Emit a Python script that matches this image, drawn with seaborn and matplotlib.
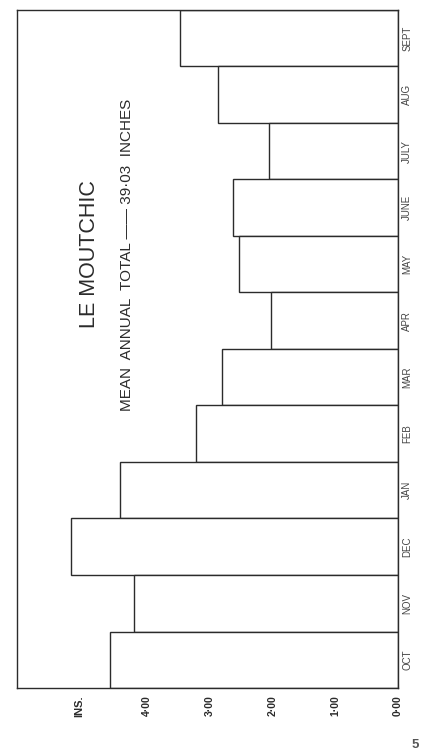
import pandas as pd
import seaborn as sns
import matplotlib.pyplot as plt

months = ['OCT', 'NOV', 'DEC', 'JAN', 'FEB', 'MAR',
          'APR', 'MAY', 'JUNE', 'JULY', 'AUG', 'SEPT']
rain_ins = [4.59, 4.21, 5.21, 4.43, 3.22, 2.81,
            2.02, 2.54, 2.63, 2.05, 2.86, 3.47]
tick_vals = [0, 1, 2, 3, 4]
tick_labels = ['0·00', '1·00', '2·00', '3·00', '4·00']

df = pd.DataFrame({'month': months, 'ins': rain_ins})

sns.set_style('white')
plt.rcParams['font.family'] = ['Liberation Sans', 'DejaVu Sans']
ink = '#2b2b2b'

fig = plt.figure(figsize=(4.23, 7.54), dpi=100)
ax = fig.add_axes([0.040, 0.0875, 0.901, 0.8995])

# chart is printed sideways: OCT at the bottom, values grow to the left
sns.barplot(data=df, x='ins', y='month', order=months[::-1], orient='h',
            width=1.0, color='white', edgecolor=ink, linewidth=1.0, ax=ax)

ax.set_xlim(6.07, 0)
ax.set_ylim(11.5, -0.5)
ax.set_xlabel('')
ax.set_ylabel('')

for s in ax.spines.values():
    s.set_visible(True)
    s.set_color(ink)
    s.set_linewidth(1.0)

ax.set_xticks(tick_vals)
ax.set_xticklabels(tick_labels, rotation=90, fontsize=7.5, fontweight='bold', color=ink)
ax.tick_params(axis='x', direction='in', length=3, width=0.8, color='#888888', pad=5, bottom=True)

ax.yaxis.tick_right()
ax.tick_params(axis='y', length=0, pad=3, right=True, left=False)
for lab in ax.get_yticklabels():
    lab.set_rotation(90)
    lab.set_fontsize(7)
    lab.set_color('#444444')
    lab.set_va('center')
    lab.set_ha('left')

ax.annotate('INS.', xy=(5.08, 0), xycoords=('data', 'axes fraction'),
            xytext=(0, -5), textcoords='offset points', rotation=90,
            ha='center', va='top', fontsize=8, fontweight='bold', color=ink)

ax.text(0.19, 0.64, 'LE MOUTCHIC', transform=ax.transAxes, rotation=90,
        ha='center', va='center', fontsize=15.5, color=ink)
ax.text(0.289, 0.639, 'MEAN  ANNUAL  TOTAL —— 39·03  INCHES', transform=ax.transAxes,
        rotation=90, ha='center', va='center', fontsize=11, color=ink)

fig.text(0.981, 0.012, '5', ha='center', va='center', fontsize=9.5,
         fontweight='bold', color='#555555')

fig.savefig('out.png', dpi=100, facecolor='white')
